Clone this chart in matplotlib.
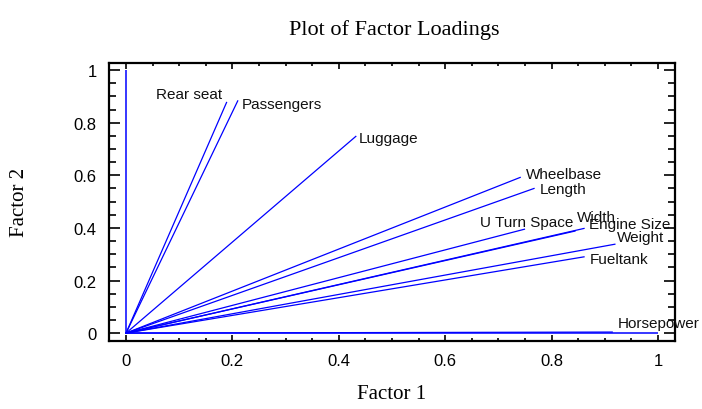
import matplotlib.pyplot as plt
import numpy as np
from matplotlib.ticker import MultipleLocator

W, H = 702, 410
DPI = 100

plt.rcParams["font.family"] = ["Liberation Sans", "DejaVu Sans"]

# Factor loadings
variables = [
    "Rear seat",
    "Passengers",
    "Luggage",
    "Wheelbase",
    "Length",
    "U Turn Space",
    "Width",
    "Engine Size",
    "Weight",
    "Fueltank",
    "Horsepower",
]
factor1 = [0.189, 0.210, 0.432, 0.741, 0.767, 0.749, 0.844, 0.861, 0.919, 0.861, 0.914]
factor2 = [0.877, 0.883, 0.748, 0.592, 0.550, 0.395, 0.388, 0.398, 0.338, 0.290, 0.004]

# unit reference vectors along each factor axis
axis_x = [0.0, 1.0]
axis_y = [1.0, 0.0]

tick_values = [0, 0.2, 0.4, 0.6, 0.8, 1.0]
tick_labels = ["0", "0.2", "0.4", "0.6", "0.8", "1"]

# label placement: (dx, dy) in pixels from the line end, horizontal alignment
label_pos = {
    "Rear seat": (-4, 8, "right"),
    "Passengers": (4, -3, "left"),
    "Luggage": (3, -2, "left"),
    "Wheelbase": (6, 3, "left"),
    "Length": (6, -1, "left"),
    "U Turn Space": (2, 7, "center"),
    "Width": (2, 14, "left"),
    "Engine Size": (5, 4, "left"),
    "Weight": (2, 7, "left"),
    "Fueltank": (6, -2, "left"),
    "Horsepower": (6, 9, "left"),
}

fig = plt.figure(figsize=(W / DPI, H / DPI), dpi=DPI)
ax = fig.add_axes([109 / W, (H - 342) / H, 566 / W, 278 / H])

blue = "#0000ff"
for ex, ey in zip(axis_x, axis_y):
    ax.plot([0, ex], [0, ey], color=blue, lw=1.1, solid_capstyle="butt")

px = 0.72  # points per pixel at 100 dpi
for name, fx, fy in zip(variables, factor1, factor2):
    ax.plot([0, fx], [0, fy], color=blue, lw=0.9)
    dx, dy, ha = label_pos[name]
    ax.annotate(
        name,
        (fx, fy),
        xytext=(dx * px, dy * px),
        textcoords="offset points",
        ha=ha,
        va="center",
        fontsize=11,
        color="#111111",
    )

ax.set_xlim(-0.032, 1.032)
ax.set_ylim(-0.03, 1.027)
ax.set_xticks(tick_values)
ax.set_xticklabels(tick_labels)
ax.set_yticks(tick_values)
ax.set_yticklabels(tick_labels)
ax.xaxis.set_minor_locator(MultipleLocator(0.05))
ax.yaxis.set_minor_locator(MultipleLocator(0.05))

ax.tick_params(axis="both", which="both", direction="in", top=True, right=True,
               width=1.2, labelsize=12)
ax.tick_params(axis="x", which="major", length=4, pad=9)
ax.tick_params(axis="x", which="minor", length=2.3)
ax.tick_params(axis="y", which="major", length=8, pad=9)
ax.tick_params(axis="y", which="minor", length=5)
for s in ax.spines.values():
    s.set_linewidth(1.6)

serif = ["Liberation Serif", "DejaVu Serif"]
fig.text(394 / W, 1 - 30 / H, "Plot of Factor Loadings", ha="center", va="center",
         fontsize=16, family=serif)
fig.text(392 / W, 1 - 395 / H, "Factor 1", ha="center", va="center",
         fontsize=15, family=serif)
fig.text(20 / W, 1 - 202 / H, "Factor 2", ha="center", va="center",
         fontsize=15, family=serif, rotation=90)

fig.savefig("out.png", dpi=DPI)
